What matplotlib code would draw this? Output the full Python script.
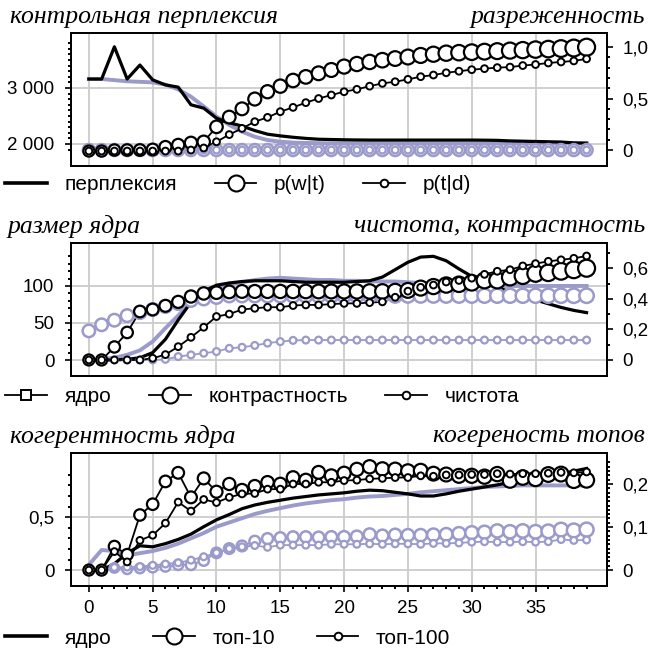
import numpy as np
import matplotlib.pyplot as plt
from matplotlib.lines import Line2D
from matplotlib.ticker import FixedLocator

plt.rcParams['font.family'] = ['Liberation Sans', 'DejaVu Sans']

x = np.arange(40)

# --- panel 1: perplexity (left) and sparsity (right) ---
perp_black = [3160, 3160, 3735, 3160, 3410, 3145, 3055, 3015, 2700, 2640,
              2460, 2380, 2320, 2240, 2175, 2145, 2120, 2100, 2085, 2080,
              2075, 2072, 2070, 2070, 2070, 2070, 2070, 2070, 2070, 2070,
              2070, 2068, 2065, 2055, 2050, 2045, 2040, 2035, 2020, 2015]
perp_purple = [3160, 3160, 3140, 3120, 3110, 3100, 3060, 2975, 2845, 2670,
               2490, 2340, 2220, 2130, 2070, 2040, 2025, 2018, 2015, 2012,
               2010, 2010, 2010, 2010, 2010, 2010, 2010, 2010, 2010, 2010,
               2010, 2010, 2010, 2010, 2010, 2010, 2010, 2010, 2010, 2010]
pwt_black = [-0.01, -0.01, 0.0, 0.0, 0.0, 0.005, 0.03, 0.05, 0.07, 0.08,
             0.225, 0.32, 0.40, 0.495, 0.566, 0.62, 0.675, 0.71, 0.745, 0.777,
             0.81, 0.835, 0.855, 0.872, 0.888, 0.903, 0.918, 0.93, 0.94, 0.945,
             0.95, 0.955, 0.96, 0.965, 0.97, 0.975, 0.98, 0.985, 0.99, 0.998]
ptd_black = [-0.01, -0.01, -0.01, -0.01, -0.01, -0.01, -0.01, -0.01, 0.0, 0.02,
             0.08, 0.15, 0.21, 0.275, 0.317, 0.372, 0.414, 0.46, 0.50, 0.534,
             0.566, 0.589, 0.62, 0.647, 0.663, 0.686, 0.712, 0.728, 0.75, 0.765,
             0.78, 0.79, 0.80, 0.805, 0.82, 0.83, 0.845, 0.855, 0.865, 0.885]
pwt_purple = [0.0] * 40
ptd_purple = [0.0] * 40

# --- panel 2: core size (left), purity / contrast (right) ---
core_black = [0, 0, 0, 1, 3, 10, 28, 54, 78, 93,
              101, 104, 106, 107, 107, 107, 106, 105, 105, 105,
              105, 106, 107, 112, 122, 132, 139, 140, 134, 123,
              113, 105, 98, 92, 86, 81, 76, 71, 67, 64]
core_purple = [0, 1, 3, 7, 13, 25, 43, 60, 78, 90,
               99, 102, 105, 108, 110, 111, 110, 109, 108, 108,
               107, 107, 106, 106, 106, 105, 104, 103, 102, 101,
               100, 100, 100, 100, 100, 100, 100, 100, 100, 100]
contrast_black = [0.0, 0.0, 0.085, 0.18, 0.317, 0.33, 0.354, 0.38, 0.415, 0.435,
                  0.44, 0.445, 0.448, 0.448, 0.448, 0.448, 0.448, 0.448, 0.448, 0.448,
                  0.448, 0.448, 0.448, 0.448, 0.45, 0.455, 0.47, 0.48, 0.49, 0.495,
                  0.505, 0.52, 0.52, 0.54, 0.55, 0.565, 0.57, 0.58, 0.59, 0.60]
contrast_purple = [0.19, 0.23, 0.26, 0.29, 0.31, 0.33, 0.35, 0.37, 0.39, 0.40,
                   0.41, 0.42, 0.42, 0.42, 0.42, 0.42, 0.42, 0.42, 0.42, 0.42,
                   0.42, 0.42, 0.42, 0.42, 0.42, 0.42, 0.42, 0.42, 0.42, 0.42,
                   0.42, 0.42, 0.42, 0.42, 0.42, 0.42, 0.42, 0.42, 0.42, 0.42]
purity_black = [0.0, 0.0, 0.0, 0.0, 0.0, 0.011, 0.035, 0.087, 0.148, 0.214,
                0.284, 0.30, 0.33, 0.338, 0.345, 0.345, 0.356, 0.36, 0.36, 0.365,
                0.37, 0.37, 0.375, 0.38, 0.41, 0.45, 0.475, 0.49, 0.51, 0.52,
                0.535, 0.56, 0.58, 0.59, 0.615, 0.63, 0.645, 0.655, 0.665, 0.68]
purity_purple = [0.0, 0.0, 0.0, 0.0, 0.0, 0.0, 0.004, 0.022, 0.033, 0.044,
                 0.055, 0.076, 0.083, 0.095, 0.11, 0.12, 0.128, 0.13, 0.13, 0.13,
                 0.13, 0.13, 0.13, 0.13, 0.13, 0.13, 0.13, 0.13, 0.13, 0.13,
                 0.13, 0.13, 0.13, 0.13, 0.13, 0.13, 0.13, 0.13, 0.13, 0.13]

# --- panel 3: core coherence (left), topic coherence (right) ---
coh_black = [0.0, 0.0, 0.06, 0.16, 0.23, 0.22, 0.25, 0.29, 0.34, 0.41,
             0.475, 0.525, 0.58, 0.615, 0.64, 0.66, 0.68, 0.695, 0.71, 0.72,
             0.73, 0.745, 0.755, 0.75, 0.735, 0.72, 0.70, 0.70, 0.72, 0.745,
             0.765, 0.785, 0.805, 0.83, 0.85, 0.87, 0.89, 0.91, 0.935, 0.96]
coh_purple = [0.05, 0.19, 0.18, 0.14, 0.16, 0.18, 0.21, 0.25, 0.30, 0.35,
              0.41, 0.45, 0.49, 0.53, 0.56, 0.585, 0.61, 0.63, 0.645, 0.66,
              0.67, 0.685, 0.695, 0.70, 0.71, 0.72, 0.735, 0.745, 0.755, 0.765,
              0.775, 0.785, 0.79, 0.795, 0.80, 0.80, 0.80, 0.80, 0.80, 0.80]
top10_black = [0.0, 0.0, 0.055, 0.036, 0.128, 0.153, 0.206, 0.226, 0.169, 0.213,
               0.182, 0.20, 0.186, 0.195, 0.204, 0.20, 0.215, 0.209, 0.227, 0.219,
               0.225, 0.234, 0.24, 0.235, 0.234, 0.23, 0.231, 0.224, 0.222, 0.219,
               0.219, 0.217, 0.223, 0.208, 0.215, 0.212, 0.222, 0.223, 0.208, 0.209]
top100_black = [0.0, 0.0, 0.043, 0.019, 0.069, 0.081, 0.109, 0.158, 0.137, 0.164,
                0.157, 0.169, 0.177, 0.178, 0.188, 0.188, 0.20, 0.20, 0.204, 0.204,
                0.208, 0.209, 0.212, 0.213, 0.215, 0.215, 0.219, 0.218, 0.221, 0.221,
                0.222, 0.222, 0.224, 0.223, 0.224, 0.224, 0.225, 0.227, 0.226, 0.228]
top10_purple = [0.0, 0.0, 0.005, 0.002, 0.004, 0.006, 0.008, 0.012, 0.012, 0.022,
                0.04, 0.05, 0.056, 0.067, 0.073, 0.075, 0.077, 0.077, 0.076, 0.077,
                0.077, 0.078, 0.083, 0.08, 0.082, 0.081, 0.081, 0.082, 0.083, 0.085,
                0.087, 0.088, 0.091, 0.089, 0.091, 0.089, 0.09, 0.094, 0.092, 0.094]
top100_purple = [0.0, 0.0, 0.006, 0.007, 0.008, 0.011, 0.014, 0.017, 0.023, 0.031,
                 0.04, 0.05, 0.054, 0.057, 0.053, 0.058, 0.058, 0.058, 0.058, 0.06,
                 0.06, 0.06, 0.061, 0.06, 0.061, 0.061, 0.06, 0.062, 0.062, 0.063,
                 0.065, 0.066, 0.065, 0.065, 0.066, 0.065, 0.066, 0.071, 0.069, 0.07]

PURPLE = '#9a9acb'
GRID = '#cccccc'
DPI = 100
TICK_FS = 13.5
LEG_FS = 15
TITLE_FONT = dict(family=['Liberation Serif', 'DejaVu Serif'], style='italic', size=18.5)
SMALL_R = 3.4


def area(r_px):
    # marker radius in pixels -> scatter area in pt^2
    d = 2 * np.asarray(r_px, dtype=float) * 72 / DPI
    return d * d


def circles(ax, y, color, r_px, mew=1.6, lw=1.3):
    ax.plot(x, y, color=color, lw=lw, zorder=2)
    ax.scatter(x, y, s=area(r_px), facecolor='white', edgecolor=color,
               linewidth=mew, zorder=3)


def setup(ax, ax2, ylim, yticks, ylabels, yminor, ylim2, yticks2, ylabels2, yminor2,
          xlabels=False):
    ax.set_xlim(-1.4, 40.6)
    ax.set_ylim(*ylim)
    ax2.set_ylim(*ylim2)
    ax.set_xticks(np.arange(0, 40, 5))
    ax.set_yticks(yticks)
    ax.set_yticklabels(ylabels)
    ax.yaxis.set_minor_locator(FixedLocator(yminor))
    ax2.set_yticks(yticks2)
    ax2.set_yticklabels(ylabels2)
    ax2.yaxis.set_minor_locator(FixedLocator(yminor2))
    ax.grid(True, color=GRID, lw=1.3, zorder=0)
    ax.set_axisbelow(True)
    for a in (ax, ax2):
        for s in a.spines.values():
            s.set_linewidth(1.3)
        a.tick_params(which='major', direction='out', length=4, width=1.2,
                      labelsize=TICK_FS, pad=8)
        a.tick_params(which='minor', direction='out', length=2.5, width=1.4)
    ax2.tick_params(which='both', axis='y', pad=7)
    if xlabels:
        ax.xaxis.set_minor_locator(FixedLocator(np.arange(0, 40, 1)))
        ax.tick_params(axis='x', which='major', pad=6)
    else:
        ax.tick_params(axis='x', which='both', bottom=False, labelbottom=False)


def legend(ax, handles, labels, y, spacing):
    ax.legend(handles, labels, ncol=3, loc='center left', frameon=False,
              bbox_to_anchor=(0.008, y), bbox_transform=fig.transFigure,
              borderaxespad=0, borderpad=0, fontsize=LEG_FS,
              handlelength=2.0, handletextpad=0.85, columnspacing=spacing)


fig = plt.figure(figsize=(6.52, 6.54), dpi=DPI)
L, W, H = 71 / 652, 536 / 652, 133 / 654

big_line = Line2D([], [], color='black', lw=1.3, marker='o', ms=11.5,
                  mfc='white', mec='black', mew=1.5)
small_line = Line2D([], [], color='black', lw=1.3, marker='o', ms=5.5,
                    mfc='white', mec='black', mew=1.4)
thick_line = Line2D([], [], color='black', lw=2.6)
square_line = Line2D([], [], color='black', lw=1.3, marker='s', ms=7,
                     mfc='white', mec='black', mew=1.4)

# ---------- panel 1 ----------
ax1 = fig.add_axes([L, 1 - 166 / 654, W, H])
ax1r = ax1.twinx()
ax1.plot(x, perp_purple, color=PURPLE, lw=2.8, zorder=2)
ax1.plot(x, perp_black, color='black', lw=2.3, zorder=3)
circles(ax1r, pwt_purple, PURPLE, np.full(40, 6.0), mew=1.8)
circles(ax1r, ptd_purple, PURPLE, np.full(40, SMALL_R), mew=1.6)
circles(ax1r, pwt_black, 'black', np.linspace(5.5, 8.5, 40))
circles(ax1r, ptd_black, 'black', np.full(40, SMALL_R), mew=1.4)
setup(ax1, ax1r, (1607, 3982), [2000, 3000], ['2 000', '3 000'],
      [v for v in range(1900, 3900, 100) if v % 1000],
      (-0.155, 1.136), [0, 0.5, 1.0], ['0', '0,5', '1,0'],
      [0.1, 0.2, 0.3, 0.4, 0.6, 0.7, 0.8, 0.9])
legend(ax1r, [thick_line, big_line, small_line], ['перплексия', 'p(w|t)', 'p(t|d)'],
       1 - 185 / 654, 1.8)
fig.text(10 / 652, 1 - 17 / 654, 'контрольная перплексия', ha='left', va='center', **TITLE_FONT)
fig.text(645 / 652, 1 - 17 / 654, 'разреженность', ha='right', va='center', **TITLE_FONT)

# ---------- panel 2 ----------
ax2 = fig.add_axes([L, 1 - 376 / 654, W, H])
ax2r = ax2.twinx()
ax2.plot(x, core_purple, color=PURPLE, lw=2.8, zorder=2)
ax2.plot(x, core_black, color='black', lw=2.3, zorder=3)
circles(ax2r, contrast_purple, PURPLE, np.linspace(6.2, 7.2, 40), mew=1.8)
circles(ax2r, purity_purple, PURPLE, np.full(40, SMALL_R), mew=1.6)
circles(ax2r, contrast_black, 'black', np.linspace(5.5, 8.5, 40))
circles(ax2r, purity_black, 'black', np.full(40, SMALL_R), mew=1.4)
setup(ax2, ax2r, (-21.6, 158), [0, 50, 100], ['0', '50', '100'],
      [10, 20, 30, 40, 60, 70, 80, 90, 110, 120, 130, 140],
      (-0.105, 0.765), [0, 0.2, 0.4, 0.6], ['0', '0,2', '0,4', '0,6'],
      [0.1, 0.3, 0.5, 0.7])
legend(ax2r, [square_line, big_line, small_line], ['ядро', 'контрастность', 'чистота'],
       1 - 397 / 654, 1.8)
fig.text(8 / 652, 1 - 227 / 654, 'размер ядра', ha='left', va='center', **TITLE_FONT)
fig.text(645 / 652, 1 - 226 / 654, 'чистота, контрастность', ha='right', va='center', **TITLE_FONT)

# ---------- panel 3 ----------
ax3 = fig.add_axes([L, 1 - 586 / 654, W, H])
ax3r = ax3.twinx()
ax3.plot(x, coh_purple, color=PURPLE, lw=2.8, zorder=2)
ax3.plot(x, coh_black, color='black', lw=2.3, zorder=3)
circles(ax3r, top10_purple, PURPLE, np.linspace(4.6, 7.0, 40), mew=1.8)
circles(ax3r, top100_purple, PURPLE, np.full(40, SMALL_R), mew=1.6)
circles(ax3r, top10_black, 'black', np.linspace(5.5, 7.5, 40))
circles(ax3r, top100_black, 'black', np.full(40, SMALL_R), mew=1.4)
setup(ax3, ax3r, (-0.15, 1.106), [0, 0.5], ['0', '0,5'],
      [0.1, 0.2, 0.3, 0.4, 0.6, 0.7, 0.8, 0.9],
      (-0.037, 0.272), [0, 0.1, 0.2], ['0', '0,1', '0,2'],
      [v / 100 for v in range(1, 26) if v % 10], xlabels=True)
legend(ax3r, [thick_line, big_line, small_line], ['ядро', 'топ-10', 'топ-100'],
       1 - 638 / 654, 2.0)
fig.text(10 / 652, 1 - 437 / 654, 'когерентность ядра', ha='left', va='center', **TITLE_FONT)
fig.text(645 / 652, 1 - 436 / 654, 'когереность топов', ha='right', va='center', **TITLE_FONT)

fig.savefig('out.png', dpi=DPI)
